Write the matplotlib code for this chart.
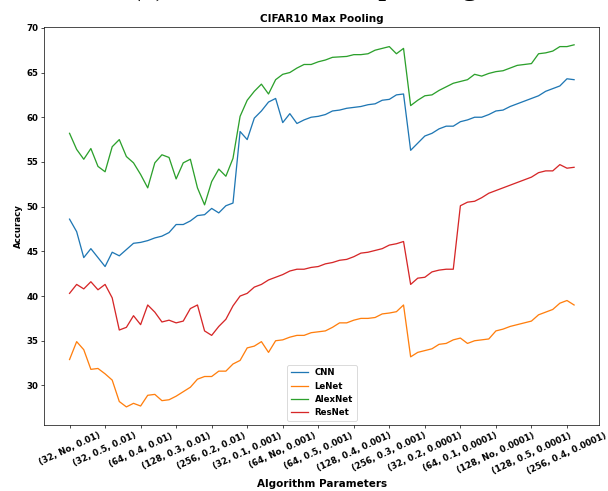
import matplotlib
matplotlib.use("Agg")
import matplotlib.pyplot as plt

# Hyper-parameter grid: (batch size, dropout, learning rate)
learning_rates = ['0.01', '0.001', '0.0001']
batch_sizes = [32, 64, 128, 256]
dropouts = ['No', '0.1', '0.2', '0.3', '0.4', '0.5']
params = [f"({b}, {d}, {lr})" for lr in learning_rates for b in batch_sizes for d in dropouts]

# Test accuracy (%) for each configuration
cnn = [48.6, 47.2, 44.3, 45.3, 44.3, 43.3, 44.9, 44.5, 45.2, 45.9, 46.0, 46.2,
       46.5, 46.7, 47.1, 48.0, 48.0, 48.4, 49.0, 49.1, 49.8, 49.3, 50.1, 50.4,
       58.4, 57.5, 59.9, 60.7, 61.7, 62.1, 59.4, 60.4, 59.3, 59.7, 60.0, 60.1,
       60.3, 60.7, 60.8, 61.0, 61.1, 61.2, 61.4, 61.5, 61.9, 62.0, 62.5, 62.6,
       56.3, 57.1, 57.9, 58.2, 58.7, 59.0, 59.0, 59.5, 59.7, 60.0, 60.0, 60.3,
       60.7, 60.8, 61.2, 61.5, 61.8, 62.1, 62.4, 62.9, 63.2, 63.5, 64.3, 64.2]
lenet = [32.9, 34.9, 34.0, 31.8, 31.9, 31.3, 30.6, 28.2, 27.6, 28.0, 27.7, 28.9,
         29.0, 28.3, 28.4, 28.8, 29.3, 29.8, 30.7, 31.0, 31.0, 31.6, 31.6, 32.4,
         32.8, 34.2, 34.4, 34.9, 33.7, 35.0, 35.1, 35.4, 35.6, 35.6, 35.9, 36.0,
         36.1, 36.5, 37.0, 37.0, 37.3, 37.5, 37.5, 37.6, 38.0, 38.1, 38.25, 39.0,
         33.2, 33.7, 33.9, 34.1, 34.6, 34.7, 35.1, 35.3, 34.7, 35.0, 35.1, 35.2,
         36.1, 36.3, 36.6, 36.8, 37.0, 37.2, 37.9, 38.2, 38.5, 39.2, 39.5, 39.0]
alexnet = [58.2, 56.4, 55.3, 56.5, 54.5, 53.9, 56.7, 57.5, 55.6, 54.9, 53.6, 52.1,
           54.9, 55.8, 55.5, 53.1, 54.9, 55.3, 52.1, 50.2, 52.8, 54.2, 53.4, 55.4,
           60.1, 61.9, 62.9, 63.7, 62.6, 64.2, 64.8, 65.0, 65.5, 65.9, 65.9, 66.2,
           66.4, 66.7, 66.75, 66.8, 67.0, 67.0, 67.1, 67.5, 67.7, 67.9, 67.1, 67.7,
           61.3, 61.9, 62.4, 62.5, 63.0, 63.4, 63.8, 64.0, 64.2, 64.8, 64.6, 64.9,
           65.1, 65.2, 65.5, 65.8, 65.9, 66.0, 67.1, 67.2, 67.4, 67.9, 67.9, 68.1]
resnet = [40.3, 41.3, 40.8, 41.6, 40.7, 41.3, 39.8, 36.2, 36.5, 37.8, 36.8, 39.0,
          38.2, 37.1, 37.3, 37.0, 37.2, 38.6, 39.0, 36.1, 35.6, 36.6, 37.4, 38.9,
          40.0, 40.3, 41.0, 41.3, 41.8, 42.1, 42.4, 42.8, 43.0, 43.0, 43.2, 43.3,
          43.6, 43.75, 44.0, 44.1, 44.4, 44.8, 44.9, 45.1, 45.3, 45.7, 45.85, 46.1,
          41.3, 42.0, 42.1, 42.7, 42.9, 43.0, 43.0, 50.1, 50.5, 50.6, 51.0, 51.5,
          51.8, 52.1, 52.4, 52.7, 53.0, 53.3, 53.8, 54.0, 54.0, 54.7, 54.3, 54.4]

plt.rcParams['font.weight'] = 'bold'
plt.rcParams['axes.titleweight'] = 'bold'
plt.rcParams['axes.labelweight'] = 'bold'

fig = plt.figure(figsize=(608 / 62, 491 / 62), dpi=62)
ax = fig.add_subplot(111)
fig.subplots_adjust(left=0.0729, right=0.9857, top=0.9456, bottom=0.1344)

x = list(range(len(params)))
ax.plot(x, cnn, label='CNN')
ax.plot(x, lenet, label='LeNet')
ax.plot(x, alexnet, label='AlexNet')
ax.plot(x, resnet, label='ResNet')

ax.set_xticks(x[::5])
ax.set_xticklabels(params[::5], rotation=25)
ax.set_title('CIFAR10 Max Pooling')
ax.set_xlabel('Algorithm Parameters', fontsize=12)
ax.set_ylabel('Accuracy')
ax.legend(loc='lower center')

# panel caption sitting above the plot; only its lowest strokes fall on the canvas
fig.text(0.5, 1.013, '(c) CIFAR10 Max pooling', ha='center', va='baseline',
         family='Liberation Serif', fontweight='normal', fontsize=38)

fig.savefig('out.png', dpi=62)
